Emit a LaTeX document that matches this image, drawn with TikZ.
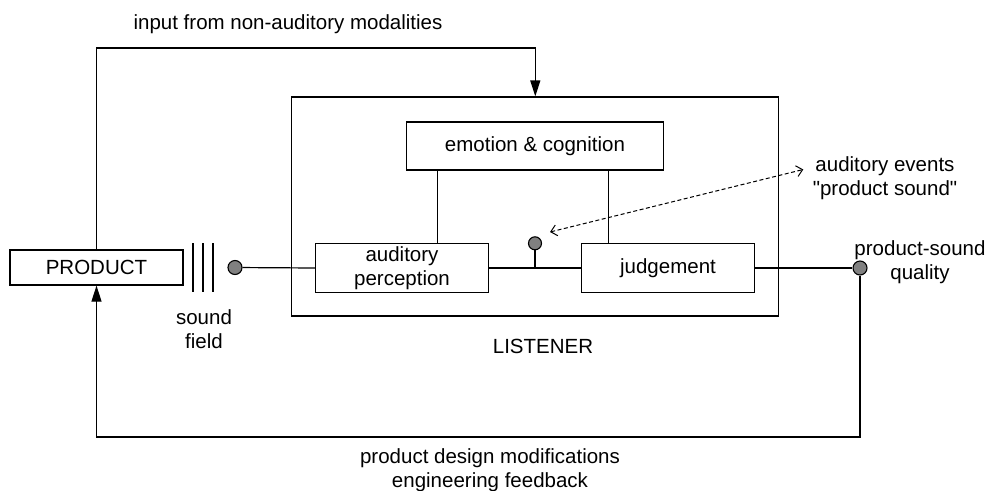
\documentclass[tikz,border=0pt]{standalone}
\usepackage{fontspec}
\newfontfamily\diagfont{Liberation Sans}
\usetikzlibrary{arrows.meta}
\tikzset{
  blk/.style={draw, line width=1.2pt, inner sep=0pt, align=center, minimum height=49pt},
  tip/.style={-{Triangle[length=16pt,width=10pt]}},
  dot/.style={circle, draw, line width=1.1pt, fill=black!50, inner sep=0pt, minimum size=14pt},
  lbl/.style={align=center, inner sep=0pt}
}
\begin{document}
\begin{tikzpicture}[x=1pt, y=-1pt, line width=1.2pt,
                    font=\diagfont\fontsize{20.5}{24}\selectfont]
\useasboundingbox (0,0) rectangle (992,490);
% blocks
\node [blk, minimum width=173pt, minimum height=35pt] (prod) at (96.5,267.5) {PRODUCT};
\node [blk, minimum width=487pt, minimum height=219pt] (lst) at (535.3,206.5) {};
\node [blk, minimum width=257pt, minimum height=48pt] (emo) at (535,146) {emotion \& cognition};
\node [blk, minimum width=173pt] (perc) at (402,268) {auditory\\perception};
\node [blk, minimum width=173pt] (judg) at (668,268) {judgement};
% dots
\node [dot] (sdot) at (235,267.5) {};
\node [dot, minimum size=13pt] (edot) at (535,243.3) {};
\node [dot] (qdot) at (860,268) {};
% sound field
\foreach \x in {193,203,213}
  \draw (\x,243) -- (\x,292);
% labels
\node [lbl] (sf) at (204,329) {sound\\field};
\node [lbl] (lname) at (543,346) {LISTENER};
\node [lbl] (inp) at (288,24) {input from non-auditory modalities};
\node [lbl] (evt) at (885,178) {auditory events\\"product sound"};
\node [lbl] (qual) at (920,262) {product-sound\\quality};
\node [lbl] (fb) at (490,470) {product design modifications\\engineering feedback};
% connectors
\coordinate (topc) at (535.3,48);
\coordinate (botc) at (860,437);
\draw [tip] (prod.north) |- (topc) -- (lst.north);
\draw [tip] (qdot) -- (botc) -| (prod.south);
\draw (sdot) -- (perc.west);
\draw (perc.east) -- (judg.west);
\draw (edot) -- (edot |- perc.east);
\draw (judg.east) -- (qdot);
\draw (perc.north) ++(35.7,0) coordinate (pa) -- (pa |- emo.south);
\draw (judg.north) ++(-59.7,0) coordinate (ja) -- (ja |- emo.south);
\coordinate (evtend) at (803.3,169.5);
\draw [dashed, dash pattern=on 4pt off 2.5pt, line width=1pt,
       {Straight Barb[length=6pt,width=11pt]}-{Straight Barb[length=6pt,width=11pt]}]
  (550,232) -- (evtend);
\end{tikzpicture}
\end{document}
